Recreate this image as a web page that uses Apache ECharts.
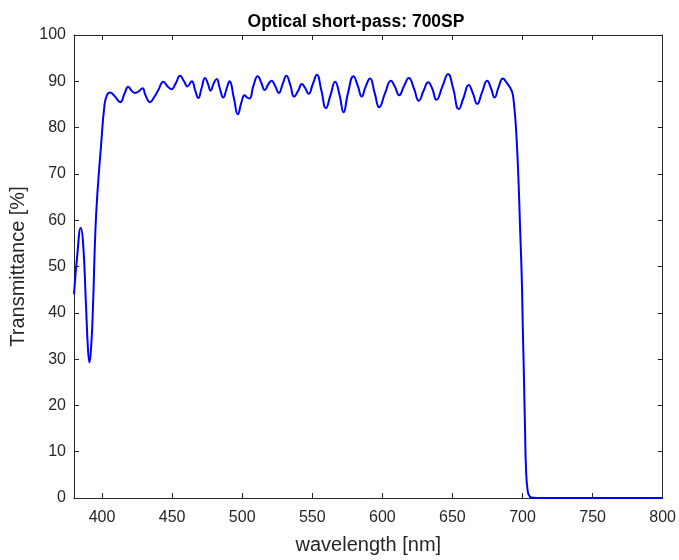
<!DOCTYPE html>
<html>
<head>
<meta charset="utf-8">
<script src="https://cdn.jsdelivr.net/npm/echarts@6/dist/echarts.min.js"></script>
<style>html,body{margin:0;padding:0;background:#fff;}#c{width:679px;height:560px;}</style>
</head>
<body>
<div id="c"></div>
<script>
const wavelength = [380,382.5,384.8,386.5,388.5,390,391,392.3,393.5,395.3,396.9,399.3,401.7,403.5,405.7,409,413,416,418.7,421,423.7,426,428.9,431,434.2,437,440,443.8,446.5,449.5,452.5,455.7,458.5,460.9,464,466.5,468.7,471,473.5,475.5,477.5,479.6,481.8,484,486.5,489,491,494,496.9,499.5,501.7,503.5,505.2,508,511.1,513.5,516.1,518.5,520.9,523.5,526.1,529,531.5,534.5,537,540,542.6,545,547.4,550.5,553.3,556.5,559.7,563,566.3,569.5,572.3,575.5,579.4,582.5,585.3,588,591.2,594.5,597.8,602,606.1,609,612,615.5,618.9,622.5,626,629.5,632.7,635.5,638.6,643,646.9,650.5,654.5,658,661.6,664.5,667.7,671,674.8,677.5,680.1,683,686,688.5,691.2,692.8,693.8,695.4,697.1,698.3,699.5,700.2,700.9,701.8,702.5,703.7,705,706.1,710,800];
const transmittance = [44,53,58.3,55,42,32,29.3,33,41,58,66.7,76.1,84.7,87,87.6,86.8,85.5,87.3,88.8,88,87.5,87.8,88.5,87,85.5,86.5,88,89.9,89,88.3,89.5,91.2,90,88.9,90.0,88,86.4,88.5,90.7,89.5,88.0,89.5,90.5,88.5,86.5,88.5,90.0,86.5,82.9,85.5,87.0,86.5,86.3,89,91.1,89.8,88.1,89.3,90.1,89,87.5,89.5,91.2,89,86.7,88,89.4,88.5,87.3,89.5,91.4,88,84.2,87,89.9,87,83.3,87.5,91.1,89,86.7,88.8,90.6,87.5,84.4,87.5,90.1,88.8,87.0,89,90.7,88.5,85.8,88,89.8,88.5,86.0,89,91.6,88.5,84.0,86.5,89.2,87.5,85.1,87.5,90.1,88.5,86.5,88.8,90.6,89.8,88.6,87.5,85.5,79.7,68.9,58.1,47.3,37,27.9,15,6.3,1.5,0.4,0.1,0,0];
const xTicks = [400,450,500,550,600,650,700,750,800];
const yTicks = [0,10,20,30,40,50,60,70,80,90,100];

const chart = echarts.init(document.getElementById('c'), null, {renderer:'canvas'});
const axisColor = '#262626';
const font = 'Liberation Sans, Arial, Helvetica, sans-serif';
const baseX = {
  type:'value', min:380, max:800,
  axisLine:{show:true, onZero:false, lineStyle:{color:axisColor, width:1}},
  splitLine:{show:false}
};
const baseY = {
  type:'value', min:0, max:100, interval:10,
  axisLine:{show:true, onZero:false, lineStyle:{color:axisColor, width:1}},
  splitLine:{show:false}
};
chart.setOption({
  animation:false,
  backgroundColor:'#fff',
  title:{text:'Optical short-pass: 700SP', left:351, textAlign:'center', top:8,
    textStyle:{fontFamily:font, fontSize:17.5, fontWeight:'bold', color:'#000'}},
  grid:{left:74, right:11, top:35, bottom:59, containLabel:false},
  xAxis:[
    Object.assign({}, baseX, {position:'bottom',
      name:'wavelength [nm]', nameLocation:'middle', nameGap:37,
      nameTextStyle:{fontFamily:font, fontSize:20, color:axisColor},
      axisTick:{show:true, inside:true, length:5, customValues:xTicks, lineStyle:{color:axisColor}},
      axisLabel:{show:true, customValues:xTicks, margin:12, fontFamily:font, fontSize:16, color:axisColor}}),
    Object.assign({}, baseX, {position:'top',
      axisTick:{show:true, inside:true, length:5, customValues:xTicks, lineStyle:{color:axisColor}},
      axisLabel:{show:false}})
  ],
  yAxis:[
    Object.assign({}, baseY, {position:'left',
      name:'Transmittance [%]', nameLocation:'middle', nameGap:42, nameRotate:90,
      nameTextStyle:{fontFamily:font, fontSize:20, color:axisColor},
      axisTick:{show:true, inside:true, length:5, lineStyle:{color:axisColor}},
      axisLabel:{show:true, margin:8, fontFamily:font, fontSize:16, color:axisColor}}),
    Object.assign({}, baseY, {position:'right',
      axisTick:{show:true, inside:true, length:5, lineStyle:{color:axisColor}},
      axisLabel:{show:false}})
  ],
  series:[{
    type:'line', xAxisIndex:0, yAxisIndex:0,
    data: wavelength.map((w,i)=>[w, transmittance[i]]),
    showSymbol:false, smooth:0.5,
    lineStyle:{color:'#0000ff', width:2},
    itemStyle:{color:'#0000ff'}
  }]
});
</script>
</body>
</html>
